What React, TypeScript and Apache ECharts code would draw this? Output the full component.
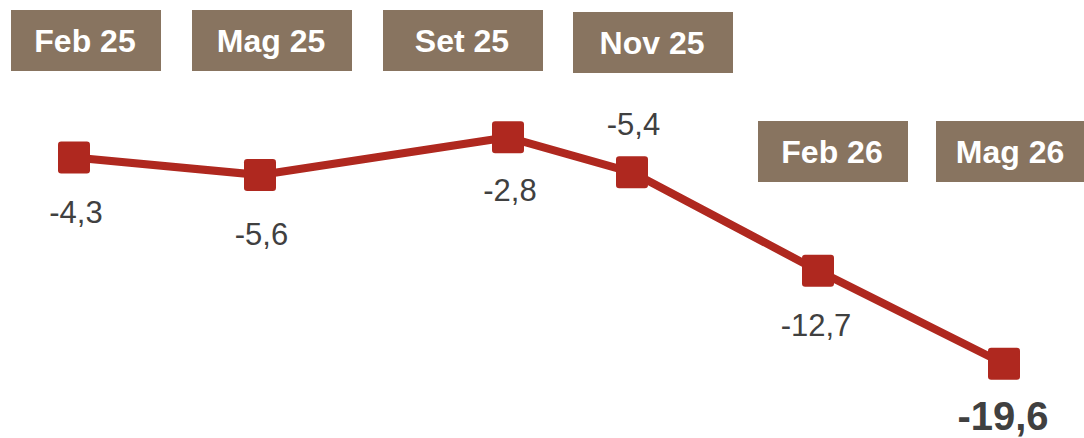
import React, { useEffect, useRef } from "react";
import * as echarts from "echarts";

// Data
const periods = ["Feb 25", "Mag 25", "Set 25", "Nov 25", "Feb 26", "Mag 26"];
const monthIndex = [0, 3, 7, 9, 12, 15]; // months since Feb 2025
const values = [-4.3, -5.6, -2.8, -5.4, -12.7, -19.6];

// Label placement (style only): offset of each value label from its marker
const labelOffsets: [number, number][] = [
  [2, 55],
  [1.5, 60],
  [2, 53],
  [1.5, -48],
  [-2, 55],
  [-1, 52],
];

// Header boxes (decoration) placement
const boxRects = [
  { x: 11, y: 10, w: 150, h: 61 },
  { x: 192, y: 10, w: 160, h: 61 },
  { x: 383, y: 10, w: 160, h: 61 },
  { x: 573, y: 12, w: 160, h: 61 },
  { x: 758, y: 121, w: 150, h: 61 },
  { x: 936, y: 121, w: 150, h: 61 },
];

const RED = "#AF281F";
const BOX = "#887460";
const FONT = "Liberation Sans";

const fmt = (v: number) => v.toFixed(1).replace(".", ",");

export default function App() {
  const ref = useRef<HTMLDivElement>(null);

  useEffect(() => {
    if (!ref.current) return;
    const chart = echarts.init(ref.current, null, { renderer: "svg" });
    const last = values.length - 1;

    const data = values.map((v, i) => ({
      value: [monthIndex[i], v],
      label: {
        show: true,
        position: "inside",
        offset: labelOffsets[i],
        formatter: fmt(v),
        fontFamily: FONT,
        fontSize: i === last ? 40 : 31,
        lineHeight: 32,
        fontWeight: i === last ? "bold" : "normal",
        color: "#404040",
      },
    }));

    const graphics: any[] = [];
    periods.forEach((p, i) => {
      const b = boxRects[i];
      graphics.push({
        type: "rect",
        shape: { x: b.x, y: b.y, width: b.w, height: b.h },
        style: { fill: BOX },
        z: 10,
      });
      graphics.push({
        type: "text",
        x: b.x + b.w / 2 - 1,
        y: b.y + b.h / 2,
        style: {
          text: p,
          fill: "#ffffff",
          fontFamily: FONT,
          fontSize: 32,
          fontWeight: "bold",
          align: "center",
          verticalAlign: "middle",
        },
        z: 11,
      });
    });

    chart.setOption({
      animation: false,
      backgroundColor: "#ffffff",
      grid: { left: 74, right: 80, top: 99.5, height: 337 },
      xAxis: {
        type: "value",
        min: 0,
        max: 15,
        show: false,
      },
      yAxis: {
        type: "value",
        min: -25,
        max: 0,
        show: false,
      },
      graphic: graphics,
      series: [
        {
          type: "line",
          data,
          symbol:
            "path://M1,0H9A1,1 0 0 1 10,1V9A1,1 0 0 1 9,10H1A1,1 0 0 1 0,9V1A1,1 0 0 1 1,0Z",
          symbolSize: 32,
          lineStyle: { color: RED, width: 8 },
          itemStyle: { color: RED },
          emphasis: { disabled: true },
        },
      ],
    });

    return () => chart.dispose();
  }, []);

  return (
    <div
      ref={ref}
      style={{
        position: "fixed",
        left: 0,
        top: 0,
        width: 1084,
        height: 438,
        background: "#ffffff",
      }}
    />
  );
}
